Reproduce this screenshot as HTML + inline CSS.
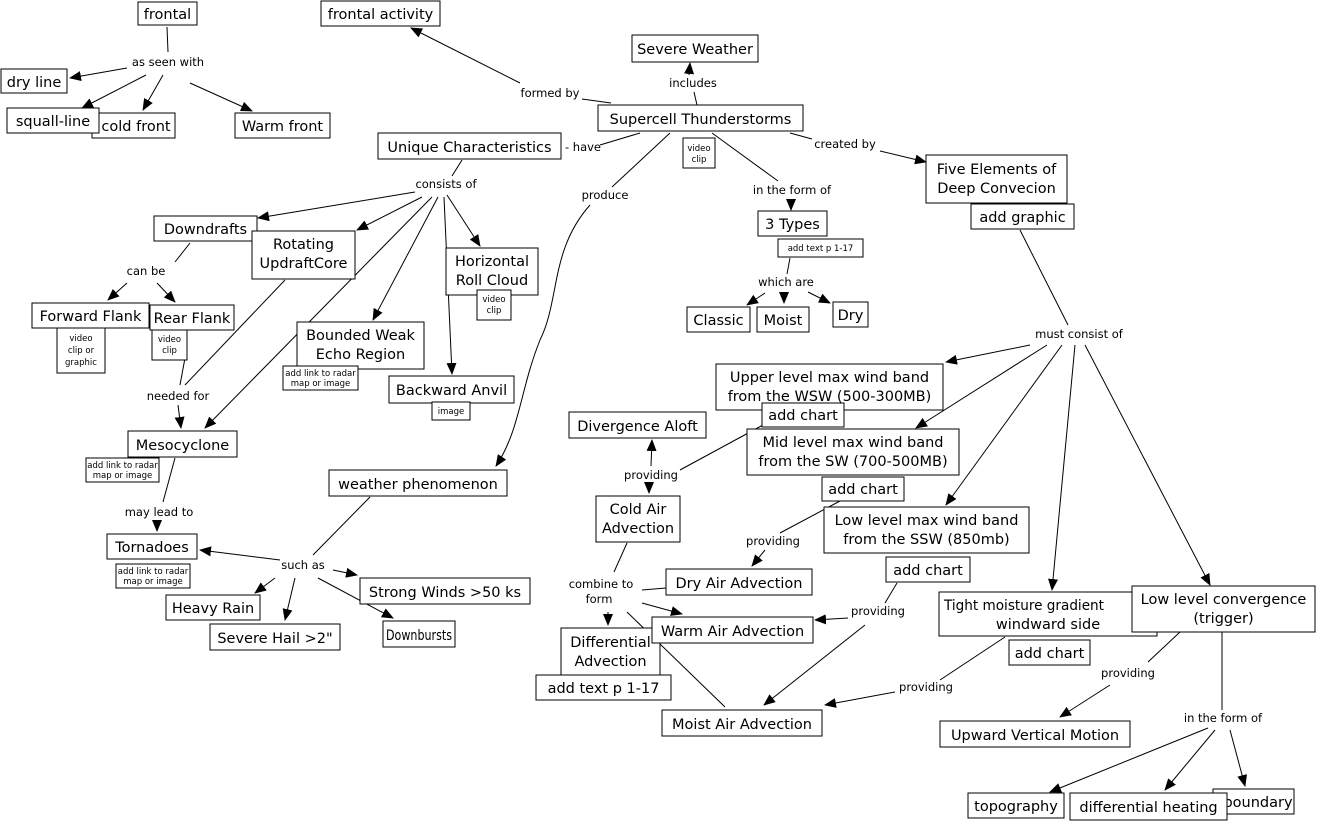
<!DOCTYPE html>
<html><head><meta charset="utf-8"><style>
html,body{margin:0;padding:0;background:#fff}
svg{display:block}
.n rect{fill:#fff;stroke:#000;stroke-width:1}
.n text{font-family:"DejaVu Sans","Liberation Sans",sans-serif;font-size:14.5px;text-anchor:middle;fill:#000}
.s text{font-size:8.5px}
.l{font-family:"DejaVu Sans","Liberation Sans",sans-serif;font-size:11.5px;text-anchor:middle;fill:#000}
line,path{stroke:#000;stroke-width:1;fill:none}
</style></head><body>
<svg width="1317" height="823" viewBox="0 0 1317 823" xmlns="http://www.w3.org/2000/svg">
<defs><marker id="a" markerWidth="12" markerHeight="10" refX="11" refY="5" orient="auto" markerUnits="userSpaceOnUse"><path d="M0,0 L12,5 L0,10 z" style="fill:#000;stroke:none"/></marker></defs>
<g id="edges">
<line x1="167" y1="27" x2="168" y2="52"/>
<line x1="127" y1="68" x2="70" y2="78" marker-end="url(#a)"/>
<line x1="146" y1="75" x2="82" y2="108" marker-end="url(#a)"/>
<line x1="163" y1="75" x2="143" y2="110" marker-end="url(#a)"/>
<line x1="190" y1="83" x2="252" y2="111" marker-end="url(#a)"/>
<line x1="582" y1="99" x2="611" y2="103"/>
<line x1="520" y1="83" x2="411" y2="28" marker-end="url(#a)"/>
<line x1="697" y1="105" x2="694" y2="92"/>
<line x1="689" y1="75" x2="690" y2="63" marker-end="url(#a)"/>
<line x1="640" y1="133" x2="600" y2="145"/>
<line x1="790" y1="133" x2="812" y2="139"/>
<line x1="880" y1="151" x2="926" y2="162" marker-end="url(#a)"/>
<line x1="462" y1="160" x2="452" y2="176"/>
<line x1="415" y1="192" x2="258" y2="218" marker-end="url(#a)"/>
<line x1="422" y1="197" x2="357" y2="230" marker-end="url(#a)"/>
<line x1="438" y1="197" x2="373" y2="320" marker-end="url(#a)"/>
<line x1="447" y1="195" x2="480" y2="246" marker-end="url(#a)"/>
<line x1="444" y1="197" x2="452" y2="374" marker-end="url(#a)"/>
<line x1="432" y1="197" x2="205" y2="428" marker-end="url(#a)"/>
<line x1="670" y1="133" x2="612" y2="187"/>
<path d="M590,205 C550,250 560,300 540,340 C520,390 520,430 496,466" marker-end="url(#a)"/>
<line x1="712" y1="133" x2="778" y2="181"/>
<line x1="791" y1="199" x2="791" y2="210" marker-end="url(#a)"/>
<line x1="790" y1="258" x2="787" y2="274"/>
<line x1="765" y1="293" x2="747" y2="305" marker-end="url(#a)"/>
<line x1="784" y1="292" x2="784" y2="303" marker-end="url(#a)"/>
<line x1="808" y1="292" x2="830" y2="303" marker-end="url(#a)"/>
<line x1="1020" y1="230" x2="1068" y2="325"/>
<line x1="1030" y1="345" x2="946" y2="362" marker-end="url(#a)"/>
<line x1="1047" y1="345" x2="916" y2="428" marker-end="url(#a)"/>
<line x1="1062" y1="345" x2="946" y2="505" marker-end="url(#a)"/>
<line x1="1075" y1="345" x2="1052" y2="590" marker-end="url(#a)"/>
<line x1="1085" y1="345" x2="1210" y2="585" marker-end="url(#a)"/>
<line x1="190" y1="243" x2="175" y2="262"/>
<line x1="127" y1="283" x2="108" y2="300" marker-end="url(#a)"/>
<line x1="157" y1="283" x2="175" y2="302" marker-end="url(#a)"/>
<line x1="285" y1="280" x2="185" y2="385"/>
<line x1="185" y1="358" x2="180" y2="385"/>
<line x1="178" y1="405" x2="181" y2="428" marker-end="url(#a)"/>
<line x1="175" y1="458" x2="163" y2="502"/>
<line x1="157" y1="520" x2="157" y2="531" marker-end="url(#a)"/>
<line x1="370" y1="497" x2="313" y2="555"/>
<line x1="280" y1="560" x2="200" y2="550" marker-end="url(#a)"/>
<line x1="275" y1="578" x2="255" y2="593" marker-end="url(#a)"/>
<line x1="295" y1="578" x2="285" y2="620" marker-end="url(#a)"/>
<line x1="333" y1="570" x2="357" y2="575" marker-end="url(#a)"/>
<line x1="318" y1="578" x2="393" y2="618" marker-end="url(#a)"/>
<line x1="763" y1="425" x2="680" y2="470"/>
<line x1="651" y1="466" x2="652" y2="440" marker-end="url(#a)"/>
<line x1="649" y1="484" x2="649" y2="493" marker-end="url(#a)"/>
<line x1="840" y1="501" x2="780" y2="533"/>
<line x1="765" y1="550" x2="752" y2="566" marker-end="url(#a)"/>
<line x1="627" y1="543" x2="614" y2="572"/>
<line x1="608" y1="612" x2="608" y2="625" marker-end="url(#a)"/>
<line x1="642" y1="590" x2="666" y2="588"/>
<line x1="642" y1="603" x2="682" y2="614" marker-end="url(#a)"/>
<line x1="627" y1="612" x2="725" y2="707"/>
<line x1="897" y1="583" x2="885" y2="603"/>
<line x1="848" y1="618" x2="815" y2="620" marker-end="url(#a)"/>
<line x1="865" y1="625" x2="764" y2="705" marker-end="url(#a)"/>
<line x1="1005" y1="637" x2="940" y2="680"/>
<line x1="895" y1="692" x2="825" y2="705" marker-end="url(#a)"/>
<line x1="1180" y1="632" x2="1148" y2="662"/>
<line x1="1110" y1="685" x2="1060" y2="717" marker-end="url(#a)"/>
<line x1="1222" y1="632" x2="1222" y2="710"/>
<line x1="1208" y1="728" x2="1050" y2="792" marker-end="url(#a)"/>
<line x1="1215" y1="730" x2="1165" y2="790" marker-end="url(#a)"/>
<line x1="1230" y1="730" x2="1245" y2="786" marker-end="url(#a)"/>
</g>
<g class="l-g">
<text class="l" x="168" y="66">as seen with</text>
<text class="l" x="550" y="97">formed by</text>
<text class="l" x="693" y="87">includes</text>
<text class="l" x="583" y="151">- have</text>
<text class="l" x="845" y="148">created by</text>
<text class="l" x="446" y="188">consists of</text>
<text class="l" x="605" y="199">produce</text>
<text class="l" x="792" y="194">in the form of</text>
<text class="l" x="786" y="286">which are</text>
<text class="l" x="146" y="275">can be</text>
<text class="l" x="178" y="400">needed for</text>
<text class="l" x="159" y="516">may lead to</text>
<text class="l" x="303" y="569">such as</text>
<text class="l" x="1079" y="338">must consist of</text>
<text class="l" x="651" y="479">providing</text>
<text class="l" x="773" y="545">providing</text>
<text class="l" x="601" y="588">combine to</text>
<text class="l" x="599" y="603">form</text>
<text class="l" x="878" y="615">providing</text>
<text class="l" x="926" y="691">providing</text>
<text class="l" x="1128" y="677">providing</text>
<text class="l" x="1223" y="722">in the form of</text>
</g>
<g class="n">
<rect x="138" y="2" width="59" height="23"/><text x="167.5" y="19">frontal</text>
<rect x="321" y="1" width="119" height="25"/><text x="380.5" y="19">frontal activity</text>
<rect x="1" y="69" width="66" height="24"/><text x="34" y="87">dry line</text>
<rect x="92" y="113" width="83" height="25"/><text x="136" y="131">cold front</text>
<rect x="7" y="108" width="92" height="25"/><text x="53" y="126">squall-line</text>
<rect x="235" y="113" width="95" height="25"/><text x="282.5" y="131">Warm front</text>
<rect x="632" y="35" width="126" height="27"/><text x="695" y="54">Severe Weather</text>
<rect x="598" y="105" width="205" height="26"/><text x="700.5" y="124">Supercell Thunderstorms</text>
<rect x="378" y="133" width="183" height="26"/><text x="469.5" y="152">Unique Characteristics</text>
<rect x="926" y="155" width="141" height="48"/><text x="996.5" y="174">Five Elements of</text><text x="996.5" y="193">Deep Convecion</text>
<rect x="971" y="204" width="103" height="25"/><text x="1022.5" y="222">add graphic</text>
<rect x="154" y="216" width="103" height="25"/><text x="205.5" y="234">Downdrafts</text>
<rect x="252" y="231" width="103" height="48"/><text x="303.5" y="249">Rotating</text><text x="303.5" y="268">UpdraftCore</text>
<rect x="446" y="248" width="92" height="47"/><text x="492" y="266">Horizontal</text><text x="492" y="285">Roll Cloud</text>
<rect x="758" y="211" width="69" height="25"/><text x="792.5" y="229">3 Types</text>
<rect x="687" y="307" width="63" height="25"/><text x="718.5" y="325">Classic</text>
<rect x="757" y="307" width="52" height="25"/><text x="783" y="325">Moist</text>
<rect x="833" y="302" width="35" height="25"/><text x="850.5" y="320">Dry</text>
<rect x="32" y="303" width="117" height="25"/><text x="90.5" y="321">Forward Flank</text>
<rect x="150" y="305" width="84" height="25"/><text x="192" y="323">Rear Flank</text>
<rect x="297" y="322" width="127" height="47"/><text x="360.5" y="340">Bounded Weak</text><text x="360.5" y="359">Echo Region</text>
<rect x="389" y="376" width="125" height="27"/><text x="451.5" y="395">Backward Anvil</text>
<rect x="716" y="364" width="227" height="46"/><text x="829.5" y="382">Upper level max wind band</text><text x="829.5" y="401">from the WSW (500-300MB)</text>
<rect x="762" y="403" width="82" height="24"/><text x="803" y="420">add chart</text>
<rect x="569" y="412" width="137" height="26"/><text x="637.5" y="431">Divergence Aloft</text>
<rect x="747" y="429" width="212" height="46"/><text x="853" y="447">Mid level max wind band</text><text x="853" y="466">from the SW (700-500MB)</text>
<rect x="128" y="431" width="109" height="26"/><text x="182.5" y="450">Mesocyclone</text>
<rect x="329" y="470" width="178" height="26"/><text x="418" y="489">weather phenomenon</text>
<rect x="822" y="477" width="82" height="24"/><text x="863" y="494">add chart</text>
<rect x="596" y="496" width="84" height="46"/><text x="638" y="514">Cold Air</text><text x="638" y="533">Advection</text>
<rect x="824" y="507" width="205" height="46"/><text x="926.5" y="525">Low level max wind band</text><text x="926.5" y="544">from the SSW (850mb)</text>
<rect x="107" y="534" width="90" height="25"/><text x="152" y="552">Tornadoes</text>
<rect x="360" y="578" width="170" height="26"/><text x="445" y="597">Strong Winds &gt;50 ks</text>
<rect x="666" y="569" width="146" height="26"/><text x="739" y="588">Dry Air Advection</text>
<rect x="886" y="557" width="84" height="25"/><text x="928" y="575">add chart</text>
<rect x="166" y="595" width="94" height="25"/><text x="213" y="613">Heavy Rain</text>
<rect x="939" y="592" width="218" height="44"/><text x="1024" y="610" textLength="160" lengthAdjust="spacingAndGlyphs">Tight moisture gradient</text><text x="1048" y="629">windward side</text>
<rect x="1132" y="586" width="183" height="46"/><text x="1223.5" y="604">Low level convergence</text><text x="1223.5" y="623">(trigger)</text>
<rect x="210" y="624" width="130" height="26"/><text x="275" y="643">Severe Hail &gt;2"</text>
<rect x="383" y="621" width="72" height="26"/><text x="419" y="640" textLength="66" lengthAdjust="spacingAndGlyphs">Downbursts</text>
<rect x="561" y="628" width="99" height="47"/><text x="610.5" y="647">Differential</text><text x="610.5" y="666">Advection</text>
<rect x="652" y="617" width="161" height="26"/><text x="732.5" y="636">Warm Air Advection</text>
<rect x="1009" y="640" width="81" height="25"/><text x="1049.5" y="658">add chart</text>
<rect x="536" y="675" width="135" height="25"/><text x="603.5" y="693">add text p 1-17</text>
<rect x="662" y="710" width="160" height="26"/><text x="742" y="729">Moist Air Advection</text>
<rect x="940" y="721" width="190" height="26"/><text x="1035" y="740">Upward Vertical Motion</text>
<rect x="1213" y="789" width="81" height="25"/><text x="1258" y="807">boundary</text>
<rect x="968" y="793" width="96" height="25"/><text x="1016" y="811">topography</text>
<rect x="1070" y="793" width="157" height="27"/><text x="1148.5" y="812">differential heating</text>
</g>
<g class="n s">
<rect x="683" y="138" width="32" height="30"/><text x="699" y="151">video</text><text x="699" y="162">clip</text>
<rect x="778" y="239" width="85" height="18"/><text x="820.5" y="251">add text p 1-17</text>
<rect x="477" y="290" width="34" height="30"/><text x="494" y="302">video</text><text x="494" y="313">clip</text>
<rect x="57" y="328" width="48" height="45"/><text x="81" y="341">video</text><text x="81" y="353">clip or</text><text x="81" y="365">graphic</text>
<rect x="152" y="330" width="35" height="30"/><text x="169.5" y="342">video</text><text x="169.5" y="353">clip</text>
<rect x="283" y="366" width="75" height="24"/><text x="320.5" y="376">add link to radar</text><text x="320.5" y="386">map or image</text>
<rect x="432" y="402" width="38" height="18"/><text x="451" y="414">image</text>
<rect x="86" y="458" width="73" height="24"/><text x="122.5" y="468">add link to radar</text><text x="122.5" y="478">map or image</text>
<rect x="116" y="564" width="74" height="24"/><text x="153" y="574">add link to radar</text><text x="153" y="584">map or image</text>
</g>
</svg>
</body></html>
